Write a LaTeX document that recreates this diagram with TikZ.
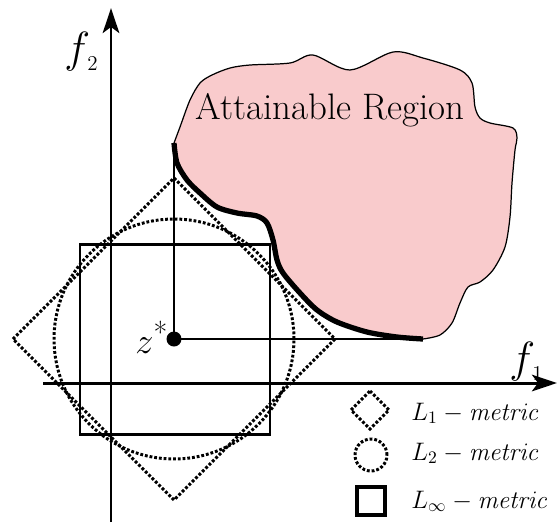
\documentclass[tikz,border=0pt]{standalone}
\usetikzlibrary{arrows.meta}

\definecolor{regionpink}{RGB}{249,203,204}
\newcommand{\axidx}[1]{\kern-1.5pt\raisebox{-5pt}{\fontsize{12}{12}\selectfont #1}}

\begin{document}
\begin{tikzpicture}[
    x=0.02cm,
    y=-0.02cm,
    >={Stealth[length=0.5cm, width=0.33cm, inset=0.12cm]},
    axis/.style={->, line width=1.7pt},
    guide/.style={line width=1.1pt},
    front/.style={line width=3pt},
    dots/.style={line width=1.7pt, dash pattern=on 1.6pt off 1.1pt},
    sq/.style={line width=1.7pt},
    lbl/.style={inner sep=0pt, anchor=base west, font=\fontsize{14.4}{15}\selectfont}
]
\useasboundingbox (0,0) rectangle (558,522);
\coordinate (zs) at (174,339);
\coordinate (pa) at (174,143);
\coordinate (pb) at (423,339);
\coordinate (xs) at (43,383);
\coordinate (xe) at (557,383);
\coordinate (ys) at (111,522);
\coordinate (ye) at (111,8);

\filldraw[fill=regionpink, line width=0.7pt]
    plot[smooth] coordinates {(174,143) (177,163) (187,180) (200,193) (217,207) (237,213) (257,216) (267,223) (273,240) (277,260) (283,273) (300,293) (317,310) (337,322) (367,332) (397,337) (423,339)}
    -- plot[smooth] coordinates {(423,339) (440,335) (452,323) (460,303) (468,287) (480,282) (493,270) (505,247) (510,217) (512,183) (515,150) (517,138) (513,128) (490,123) (480,118) (475,107) (472,83) (460,70) (423,58) (393,52) (350,70) (313,55) (290,63) (250,65) (230,68) (212,75) (200,83) (190,100) (180,127) (174,143)}
    -- cycle;
\node[inner sep=0pt, anchor=base, font=\fontsize{21}{22}\selectfont] (reg) at (330,119) {Attainable Region};

\draw[axis] (xs) -- (xe);
\draw[axis] (ys) -- (ye);

\draw[dots] (13,339) -- (174,178) -- (335,339) -- (174,500) -- cycle;
\draw[dots] (zs) circle[radius=2.4cm];
\draw[sq] (80,244) rectangle (270,434);

\draw[guide] (zs) -- (pa);
\draw[guide] (zs) -- (pb);
\draw[front] plot[smooth] coordinates {(174,143) (177,163) (187,180) (200,193) (217,207) (237,213) (257,216) (267,223) (273,240) (277,260) (283,273) (300,293) (317,310) (337,322) (367,332) (397,337) (423,339)};
\fill (zs) circle[radius=0.15cm];

\node[inner sep=0pt, anchor=base west, font=\fontsize{20.74}{21}\selectfont] (zlbl) at (135,353) {$z$\raisebox{5.5pt}{\fontsize{17}{17}\selectfont *}};
\node[inner sep=0pt, anchor=base west, font=\fontsize{24.88}{25}\selectfont] (ftwo) at (64,62) {$f$\axidx{2}};
\node[inner sep=0pt, anchor=base west, font=\fontsize{24.88}{25}\selectfont] (fone) at (509,372) {$f$\axidx{1}};

\draw[dots] (370,391) -- (389,410) -- (370,429) -- (351,410) -- cycle;
\draw[dots] (371,455) circle[radius=0.32cm];
\draw[line width=2.8pt] (357,487) rectangle (385,515);
\node[lbl] (lone) at (411,420) {$L_1-\mathit{metric}$};
\node[lbl] (ltwo) at (411,460) {$L_2-\mathit{metric}$};
\node[lbl] (linf) at (411,508) {$L_\infty-\mathit{metric}$};
\end{tikzpicture}
\end{document}
